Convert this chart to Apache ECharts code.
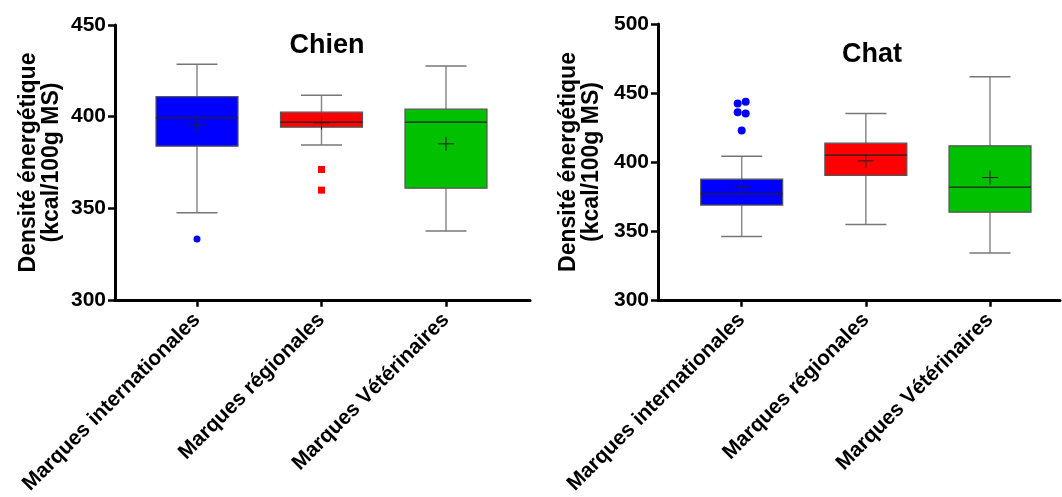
<!DOCTYPE html>
<html>
<head>
<meta charset="utf-8">
<script src="https://cdn.jsdelivr.net/npm/echarts@6/dist/echarts.min.js"></script>
<style>
html,body{margin:0;padding:0;background:#fff;}
#c{width:1062px;height:497px;}
</style>
</head>
<body>
<div id="c"></div>
<script>
// ---- data ----
const categories = ['Marques internationales', 'Marques régionales', 'Marques Vétérinaires'];
const titles = ['Chien', 'Chat'];
const yAxisName = 'Densité énergétique\n(kcal/100g MS)';
const colors = ['#0000FF', '#FF0000', '#00C000'];

// [min whisker, Q1, median, Q3, max whisker, mean]
const chienStats = [
  [347.5, 383.8, 399.3, 410.9, 428.6, 395.5],
  [384.4, 394.2, 396.9, 402.4, 411.6, 396.6],
  [337.5, 360.9, 396.9, 404.0, 427.6, 385.1]
];
const chienOutliers = [
  [0, 333.1],
  [1, 371.1],
  [1, 359.8]
];
const chatStats = [
  [345.9, 368.6, 376.8, 387.4, 404.1, 381.7],
  [354.6, 390.1, 404.8, 413.5, 435.0, 400.7],
  [333.8, 363.5, 381.7, 411.6, 461.8, 388.6]
];
const chatOutliers = [
  [0, 442.3, -4],
  [0, 443.5, 4],
  [0, 436.0, -4],
  [0, 435.0, 4],
  [0, 422.7, 0]
];
const chienY = {min: 300, max: 450, interval: 50};
const chatY = {min: 300, max: 500, interval: 50};

// ---- rendering ----
const FONT = 'Liberation Sans, Arial, sans-serif';
const BOX_W = 82, CAP_W = 41, CROSS_W = 16, CROSS_H = 14;

function renderBox(params, api) {
  const cat = api.value(0);
  const vals = [1,2,3,4,5,6].map(i => api.value(i));
  const [mn, q1, md, q3, mx, mean] = vals;
  const pMin = api.coord([cat, mn]);
  const pQ1 = api.coord([cat, q1]);
  const pMd = api.coord([cat, md]);
  const pQ3 = api.coord([cat, q3]);
  const pMx = api.coord([cat, mx]);
  const pMean = api.coord([cat, mean]);
  const x = pMd[0];
  const color = colors[cat];
  const wh = {stroke: '#8a8a8a', lineWidth: 1.5};
  const cap = {stroke: '#777', lineWidth: 1.5};
  return {
    type: 'group',
    children: [
      {type: 'line', shape: {x1: x, y1: pMx[1], x2: x, y2: pQ3[1]}, style: wh},
      {type: 'line', shape: {x1: x, y1: pQ1[1], x2: x, y2: pMin[1]}, style: wh},
      {type: 'line', shape: {x1: x - CAP_W/2, y1: pMx[1], x2: x + CAP_W/2, y2: pMx[1]}, style: cap},
      {type: 'line', shape: {x1: x - CAP_W/2, y1: pMin[1], x2: x + CAP_W/2, y2: pMin[1]}, style: cap},
      {type: 'rect', shape: {x: x - BOX_W/2, y: pQ3[1], width: BOX_W, height: pQ1[1] - pQ3[1]},
        style: {fill: color, stroke: '#555', lineWidth: 1.2}},
      {type: 'line', shape: {x1: x - BOX_W/2, y1: pMd[1], x2: x + BOX_W/2, y2: pMd[1]},
        style: {stroke: '#222', lineWidth: 1.3}},
      {type: 'line', shape: {x1: x - CROSS_W/2, y1: pMean[1], x2: x + CROSS_W/2, y2: pMean[1]},
        style: {stroke: '#222', lineWidth: 1}},
      {type: 'line', shape: {x1: x, y1: pMean[1] - CROSS_H/2, x2: x, y2: pMean[1] + CROSS_H/2},
        style: {stroke: '#222', lineWidth: 1}}
    ]
  };
}

const chart = echarts.init(document.getElementById('c'), null, {renderer: 'canvas'});

const panels = [
  {outer: {left: 115, right: 1062 - 530, top: 25, bottom: 197},
   inner: {left: 134.75, right: 1062 - 508.25, top: 25, bottom: 197},
   y: chienY, stats: chienStats, out: chienOutliers, title: titles[0], titleX: 322, titleY: 41,
   nameGap: 52, outSymbol: ['circle', 'rect', 'rect']},
  {outer: {left: 658, right: 2, top: 24, bottom: 197},
   inner: {left: 679.6, right: 1062 - 1052.1, top: 24, bottom: 197},
   y: chatY, stats: chatStats, out: chatOutliers, title: titles[1], titleX: 867, titleY: 50,
   nameGap: 55, outSymbol: ['circle', 'rect', 'rect']}
];

const option = {
  animation: false,
  backgroundColor: '#fff',
  title: panels.map(p => ({
    text: p.title, left: p.titleX, top: p.titleY, textAlign: 'center', textVerticalAlign: 'middle',
    textStyle: {fontFamily: FONT, fontWeight: 'bold', fontSize: 27, color: '#000'}
  })),
  grid: [],
  xAxis: [],
  yAxis: [],
  series: []
};

panels.forEach((p, i) => {
  const gOuter = option.grid.length;
  option.grid.push(Object.assign({containLabel: false}, p.outer));
  const gInner = option.grid.length;
  option.grid.push(Object.assign({containLabel: false}, p.inner));

  option.xAxis.push({
    gridIndex: gOuter, type: 'value', min: 0, max: 1,
    axisLine: {show: true, lineStyle: {color: '#000', width: 3}},
    axisTick: {show: false}, axisLabel: {show: false}, splitLine: {show: false}
  });
  option.yAxis.push({
    gridIndex: gOuter, type: 'value', min: p.y.min, max: p.y.max, interval: p.y.interval,
    name: yAxisName, nameLocation: 'middle', nameGap: p.nameGap, nameRotate: 90,
    nameTextStyle: {fontFamily: FONT, fontWeight: 'bold', fontSize: 23, color: '#000', lineHeight: 23},
    axisLine: {show: true, lineStyle: {color: '#000', width: 3}},
    axisTick: {show: true, length: 7, lineStyle: {color: '#000', width: 2.5}},
    axisLabel: {fontFamily: FONT, fontWeight: 'bold', fontSize: 21, color: '#000', margin: 9},
    splitLine: {show: false}
  });

  option.xAxis.push({
    gridIndex: gInner, type: 'category', data: categories, boundaryGap: true,
    axisLine: {show: false},
    axisTick: {show: true, alignWithLabel: true, length: 7, lineStyle: {color: '#000', width: 2.5}},
    axisLabel: {fontFamily: FONT, fontWeight: 'bold', fontSize: 21, color: '#000', rotate: 45, margin: 17, interval: 0},
    splitLine: {show: false}
  });
  option.yAxis.push({
    gridIndex: gInner, type: 'value', min: p.y.min, max: p.y.max, interval: p.y.interval,
    show: false
  });
  const xInnerIdx = option.xAxis.length - 1, yInnerIdx = option.yAxis.length - 1;

  option.series.push({
    type: 'custom', xAxisIndex: xInnerIdx, yAxisIndex: yInnerIdx,
    renderItem: renderBox,
    encode: {x: 0, y: [1,2,3,4,5,6]},
    data: p.stats.map((s, k) => [k].concat(s)),
    z: 2
  });
  option.series.push({
    type: 'scatter', xAxisIndex: xInnerIdx, yAxisIndex: yInnerIdx,
    data: p.out.map(o => ({
      value: [o[0], o[1]],
      symbol: p.outSymbol[o[0]],
      symbolSize: i === 0 ? 7 : 8,
      symbolOffset: [o[2] || 0, 0],
      itemStyle: {color: colors[o[0]], opacity: 1}
    })),
    z: 3
  });
});

chart.setOption(option);
</script>
</body>
</html>
